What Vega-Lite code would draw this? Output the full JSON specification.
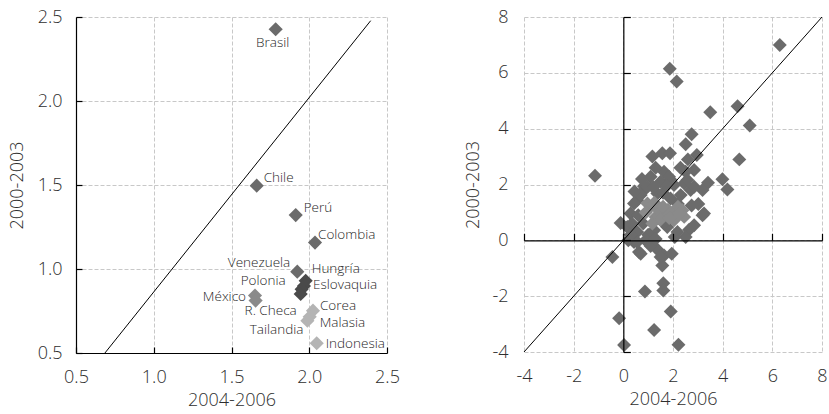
{
  "$schema": "https://vega.github.io/schema/vega-lite/v6.json",
  "padding": {"left": 8, "top": 8, "right": 2, "bottom": 0},
  "background": "white",
  "spacing": 64,
  "config": {
    "view": {"stroke": null},
    "font": "Open Sans",
    "text": {"fontWeight": 300},
    "axis": {
      "labelFont": "Open Sans", "labelFontSize": 18, "labelColor": "#2e2e2e", "labelFontWeight": 300, "labelFlush": false,
      "titleFont": "Open Sans", "titleFontSize": 18, "titleFontWeight": 300, "titleColor": "#2e2e2e",
      "gridColor": "#c8c8c8", "gridDash": [4, 2], "gridWidth": 1,
      "domainColor": "#000000", "tickColor": "#000000", "domainWidth": 1.2, "tickWidth": 1.2
    }
  },
  "datasets": {
    "left": [
      {"name": "Brasil", "x": 1.784, "y": 2.427, "group": "América Latina"},
      {"name": "Chile", "x": 1.662, "y": 1.496, "group": "América Latina"},
      {"name": "Perú", "x": 1.913, "y": 1.321, "group": "América Latina"},
      {"name": "Colombia", "x": 2.037, "y": 1.157, "group": "América Latina"},
      {"name": "Venezuela", "x": 1.923, "y": 0.984, "group": "América Latina"},
      {"name": "México", "x": 1.651, "y": 0.842, "group": "México"},
      {"name": "", "x": 1.655, "y": 0.812, "group": "México"},
      {"name": "Hungría", "x": 1.977, "y": 0.930, "group": "Europa"},
      {"name": "Eslovaquia", "x": 1.966, "y": 0.899, "group": "Europa"},
      {"name": "Polonia", "x": 1.951, "y": 0.879, "group": "Europa"},
      {"name": "R. Checa", "x": 1.945, "y": 0.851, "group": "Europa"},
      {"name": "Corea", "x": 2.024, "y": 0.752, "group": "Asia"},
      {"name": "Malasia", "x": 2.003, "y": 0.716, "group": "Asia"},
      {"name": "Tailandia", "x": 1.988, "y": 0.692, "group": "Asia"},
      {"name": "Indonesia", "x": 2.048, "y": 0.558, "group": "Asia"}
    ],
    "lineL": [{"x": 0.686, "y": 0.5}, {"x": 2.395, "y": 2.478}],
    "lineR": [{"x": -4, "y": -4}, {"x": 8, "y": 8}],
    "right": [
      {"x": 6.3, "y": 7.0, "g": "a"}, {"x": 1.87, "y": 6.15, "g": "a"}, {"x": 2.15, "y": 5.69, "g": "a"},
      {"x": 3.5, "y": 4.59, "g": "a"}, {"x": 4.6, "y": 4.8, "g": "a"}, {"x": 5.09, "y": 4.11, "g": "a"},
      {"x": 4.67, "y": 2.9, "g": "a"}, {"x": 2.75, "y": 3.8, "g": "a"}, {"x": 2.51, "y": 3.44, "g": "a"},
      {"x": 1.57, "y": 3.12, "g": "a"}, {"x": 1.88, "y": 3.12, "g": "a"}, {"x": 1.17, "y": 3.0, "g": "a"},
      {"x": 2.96, "y": 3.06, "g": "a"}, {"x": -1.14, "y": 2.31, "g": "a"}, {"x": 3.99, "y": 2.19, "g": "a"},
      {"x": 4.19, "y": 1.82, "g": "a"}, {"x": 3.41, "y": 2.06, "g": "a"}, {"x": 3.19, "y": 1.8, "g": "a"},
      {"x": 2.85, "y": 2.52, "g": "a"}, {"x": 2.51, "y": 2.46, "g": "a"}, {"x": 1.64, "y": 2.46, "g": "a"},
      {"x": 1.1, "y": 2.28, "g": "a"}, {"x": 0.83, "y": 1.8, "g": "a"}, {"x": 1.5, "y": 2.1, "g": "a"},
      {"x": 1.91, "y": 2.16, "g": "a"}, {"x": 2.45, "y": 2.04, "g": "a"}, {"x": 2.71, "y": 1.8, "g": "a"},
      {"x": 0.56, "y": 1.44, "g": "a"}, {"x": 3.02, "y": 1.3, "g": "a"}, {"x": 3.19, "y": 0.9, "g": "a"},
      {"x": 2.65, "y": 0.38, "g": "a"}, {"x": 2.51, "y": 0.12, "g": "a"}, {"x": 2.07, "y": 0.12, "g": "a"},
      {"x": 1.77, "y": 0.48, "g": "a"}, {"x": -0.11, "y": 0.62, "g": "a"}, {"x": -0.44, "y": -0.6, "g": "a"},
      {"x": 0.63, "y": -0.42, "g": "a"}, {"x": 1.37, "y": -0.33, "g": "a"}, {"x": 1.64, "y": -0.54, "g": "a"},
      {"x": 1.95, "y": -0.48, "g": "a"}, {"x": 1.57, "y": -0.9, "g": "a"}, {"x": 1.61, "y": -1.54, "g": "a"},
      {"x": 1.61, "y": -1.8, "g": "a"}, {"x": 0.87, "y": -1.83, "g": "a"}, {"x": 1.91, "y": -2.55, "g": "a"},
      {"x": -0.17, "y": -2.79, "g": "a"}, {"x": 1.24, "y": -3.21, "g": "a"}, {"x": 0.03, "y": -3.75, "g": "a"},
      {"x": 2.22, "y": -3.74, "g": "a"}, {"x": 0.97, "y": -0.06, "g": "a"}, {"x": 1.84, "y": 2.28, "g": "a"},
      {"x": 2.58, "y": 2.16, "g": "a"}, {"x": 0.83, "y": 1.94, "g": "a"}, {"x": 2.04, "y": 1.98, "g": "a"},
      {"x": 0.97, "y": 1.92, "g": "a"}, {"x": 0.7, "y": 1.62, "g": "a"}, {"x": 0.43, "y": 1.32, "g": "a"},
      {"x": 0.29, "y": 0.96, "g": "a"}, {"x": 0.16, "y": 0.48, "g": "a"}, {"x": 0.56, "y": 0.3, "g": "a"},
      {"x": 0.43, "y": -0.06, "g": "a"}, {"x": 1.24, "y": 0.36, "g": "a"}, {"x": 1.64, "y": 0.6, "g": "a"},
      {"x": 2.18, "y": 0.3, "g": "a"}, {"x": 2.85, "y": 0.54, "g": "a"}, {"x": 3.25, "y": 0.96, "g": "a"},
      {"x": 1.37, "y": 1.68, "g": "a"}, {"x": 2.31, "y": 1.62, "g": "a"}, {"x": 2.85, "y": 1.92, "g": "a"},
      {"x": 0.56, "y": -0.06, "g": "a"}, {"x": 0.7, "y": -0.48, "g": "a"}, {"x": 1.5, "y": -0.6, "g": "a"},
      {"x": 0.3, "y": 0.2, "g": "a"}, {"x": 0.8, "y": 0.6, "g": "a"}, {"x": 0.6, "y": 0.9, "g": "a"},
      {"x": 1.0, "y": 0.2, "g": "a"}, {"x": 1.9, "y": 1.5, "g": "a"}, {"x": 2.2, "y": 1.3, "g": "a"},
      {"x": 1.2, "y": 1.9, "g": "a"}, {"x": 1.6, "y": 1.7, "g": "a"}, {"x": 2.6, "y": 2.9, "g": "a"},
      {"x": 1.3, "y": 2.6, "g": "a"}, {"x": 0.9, "y": 0.0, "g": "a"}, {"x": 0.2, "y": 0.0, "g": "a"},
      {"x": 1.1, "y": -0.2, "g": "a"}, {"x": 0.45, "y": 1.75, "g": "a"}, {"x": 1.75, "y": 1.95, "g": "a"},
      {"x": 2.3, "y": 2.6, "g": "a"}, {"x": 0.75, "y": 2.2, "g": "a"}, {"x": 1.3, "y": 0.05, "g": "a"},
      {"x": 0.35, "y": 0.6, "g": "a"}, {"x": 2.75, "y": 1.25, "g": "a"},
      {"x": 0.97, "y": 1.32, "g": "b"}, {"x": 1.1, "y": 1.2, "g": "b"}, {"x": 0.9, "y": 1.0, "g": "b"},
      {"x": 1.3, "y": 0.84, "g": "b"}, {"x": 1.17, "y": 0.6, "g": "b"}, {"x": 1.64, "y": 0.96, "g": "b"},
      {"x": 2.04, "y": 1.02, "g": "b"}, {"x": 2.38, "y": 1.08, "g": "b"}, {"x": 2.45, "y": 0.84, "g": "b"},
      {"x": 2.04, "y": 0.72, "g": "b"}, {"x": 1.8, "y": 1.1, "g": "b"}, {"x": 1.4, "y": 1.1, "g": "b"},
      {"x": 1.25, "y": 1.35, "g": "b"}, {"x": 1.6, "y": 1.2, "g": "b"}, {"x": 2.2, "y": 1.2, "g": "b"},
      {"x": 1.5, "y": 0.75, "g": "b"}, {"x": 1.85, "y": 0.8, "g": "b"}, {"x": 2.25, "y": 0.95, "g": "b"}
    ]
  },
  "hconcat": [
    {
      "width": 311,
      "height": 336,
      "layer": [
        {
          "data": {"name": "left"},
          "mark": {"type": "point", "shape": "diamond", "filled": true, "size": 200, "opacity": 1},
          "encoding": {
            "x": {"field": "x", "type": "quantitative", "scale": {"domain": [0.5, 2.5], "nice": false, "zero": false},
              "axis": {"values": [0.5, 1, 1.5, 2, 2.5], "format": ".1f", "title": "2004-2006", "grid": true,
                "domain": true, "ticks": true, "tickSize": -6, "labelPadding": 21, "titlePadding": 5}},
            "y": {"field": "y", "type": "quantitative", "scale": {"domain": [0.5, 2.5], "nice": false, "zero": false},
              "axis": {"values": [0.5, 1, 1.5, 2, 2.5], "format": ".1f", "title": "2000-2003", "grid": true,
                "domain": true, "ticks": true, "tickSize": -6, "labelPadding": 20, "titlePadding": 11}},
            "color": {"field": "group", "type": "nominal", "legend": null,
              "scale": {"domain": ["América Latina", "México", "Europa", "Asia"], "range": ["#6b6b6b", "#8a8a8a", "#4a4a4a", "#b4b4b4"]}}
          }
        },
        {
          "data": {"name": "lineL"},
          "mark": {"type": "line", "color": "#000000", "strokeWidth": 1},
          "encoding": {"x": {"field": "x", "type": "quantitative"}, "y": {"field": "y", "type": "quantitative"}}
        },
        {"data": {"name": "left"}, "transform": [{"filter": "datum.name === 'Brasil'"}],
          "mark": {"type": "text", "align": "center", "baseline": "middle", "dx": -3, "dy": 14, "fontSize": 13.5, "color": "#262626"},
          "encoding": {"x": {"field": "x", "type": "quantitative"}, "y": {"field": "y", "type": "quantitative"}, "text": {"field": "name"}}},
        {"data": {"name": "left"}, "transform": [{"filter": "datum.name === 'Chile'"}],
          "mark": {"type": "text", "align": "left", "baseline": "middle", "dx": 7, "dy": -8, "fontSize": 13.5, "color": "#262626"},
          "encoding": {"x": {"field": "x", "type": "quantitative"}, "y": {"field": "y", "type": "quantitative"}, "text": {"field": "name"}}},
        {"data": {"name": "left"}, "transform": [{"filter": "datum.name === 'Perú'"}],
          "mark": {"type": "text", "align": "left", "baseline": "middle", "dx": 8, "dy": -7, "fontSize": 13.5, "color": "#262626"},
          "encoding": {"x": {"field": "x", "type": "quantitative"}, "y": {"field": "y", "type": "quantitative"}, "text": {"field": "name"}}},
        {"data": {"name": "left"}, "transform": [{"filter": "datum.name === 'Colombia'"}],
          "mark": {"type": "text", "align": "left", "baseline": "middle", "dx": 3, "dy": -8, "fontSize": 13.5, "color": "#262626"},
          "encoding": {"x": {"field": "x", "type": "quantitative"}, "y": {"field": "y", "type": "quantitative"}, "text": {"field": "name"}}},
        {"data": {"name": "left"}, "transform": [{"filter": "datum.name === 'Venezuela'"}],
          "mark": {"type": "text", "align": "right", "baseline": "middle", "dx": -7, "dy": -9, "fontSize": 13.5, "color": "#262626"},
          "encoding": {"x": {"field": "x", "type": "quantitative"}, "y": {"field": "y", "type": "quantitative"}, "text": {"field": "name"}}},
        {"data": {"name": "left"}, "transform": [{"filter": "datum.name === 'Hungría'"}],
          "mark": {"type": "text", "align": "left", "baseline": "middle", "dx": 6, "dy": -12, "fontSize": 13.5, "color": "#262626"},
          "encoding": {"x": {"field": "x", "type": "quantitative"}, "y": {"field": "y", "type": "quantitative"}, "text": {"field": "name"}}},
        {"data": {"name": "left"}, "transform": [{"filter": "datum.name === 'Eslovaquia'"}],
          "mark": {"type": "text", "align": "left", "baseline": "middle", "dx": 9, "dy": -1, "fontSize": 13.5, "color": "#262626"},
          "encoding": {"x": {"field": "x", "type": "quantitative"}, "y": {"field": "y", "type": "quantitative"}, "text": {"field": "name"}}},
        {"data": {"name": "left"}, "transform": [{"filter": "datum.name === 'Polonia'"}],
          "mark": {"type": "text", "align": "right", "baseline": "middle", "dx": -16, "dy": -8, "fontSize": 13.5, "color": "#262626"},
          "encoding": {"x": {"field": "x", "type": "quantitative"}, "y": {"field": "y", "type": "quantitative"}, "text": {"field": "name"}}},
        {"data": {"name": "left"}, "transform": [{"filter": "datum.name === 'México'"}],
          "mark": {"type": "text", "align": "right", "baseline": "middle", "dx": -9, "dy": 1, "fontSize": 13.5, "color": "#262626"},
          "encoding": {"x": {"field": "x", "type": "quantitative"}, "y": {"field": "y", "type": "quantitative"}, "text": {"field": "name"}}},
        {"data": {"name": "left"}, "transform": [{"filter": "datum.name === 'R. Checa'"}],
          "mark": {"type": "text", "align": "right", "baseline": "middle", "dx": -4, "dy": 17, "fontSize": 13.5, "color": "#262626"},
          "encoding": {"x": {"field": "x", "type": "quantitative"}, "y": {"field": "y", "type": "quantitative"}, "text": {"field": "name"}}},
        {"data": {"name": "left"}, "transform": [{"filter": "datum.name === 'Tailandia'"}],
          "mark": {"type": "text", "align": "right", "baseline": "middle", "dx": -4, "dy": 9, "fontSize": 13.5, "color": "#262626"},
          "encoding": {"x": {"field": "x", "type": "quantitative"}, "y": {"field": "y", "type": "quantitative"}, "text": {"field": "name"}}},
        {"data": {"name": "left"}, "transform": [{"filter": "datum.name === 'Corea'"}],
          "mark": {"type": "text", "align": "left", "baseline": "middle", "dx": 7, "dy": -5, "fontSize": 13.5, "color": "#262626"},
          "encoding": {"x": {"field": "x", "type": "quantitative"}, "y": {"field": "y", "type": "quantitative"}, "text": {"field": "name"}}},
        {"data": {"name": "left"}, "transform": [{"filter": "datum.name === 'Malasia'"}],
          "mark": {"type": "text", "align": "left", "baseline": "middle", "dx": 10, "dy": 6, "fontSize": 13.5, "color": "#262626"},
          "encoding": {"x": {"field": "x", "type": "quantitative"}, "y": {"field": "y", "type": "quantitative"}, "text": {"field": "name"}}},
        {"data": {"name": "left"}, "transform": [{"filter": "datum.name === 'Indonesia'"}],
          "mark": {"type": "text", "align": "left", "baseline": "middle", "dx": 9, "dy": 1, "fontSize": 13.5, "color": "#262626"},
          "encoding": {"x": {"field": "x", "type": "quantitative"}, "y": {"field": "y", "type": "quantitative"}, "text": {"field": "name"}}}
      ]
    },
    {
      "width": 298,
      "height": 335,
      "resolve": {"axis": {"x": "independent", "y": "independent"}},
      "layer": [
        {
          "data": {"name": "right"},
          "mark": {"type": "point", "shape": "diamond", "filled": true, "size": 195, "opacity": 1},
          "encoding": {
            "x": {"field": "x", "type": "quantitative", "scale": {"domain": [-4, 8], "nice": false, "zero": false},
              "axis": {"orient": "bottom", "values": [-4, -2, 0, 2, 4, 6, 8], "labelExpr": "(datum.value < 0 ? '-' : '') + abs(datum.value)",
                "title": "2004-2006", "grid": true, "domain": false, "ticks": false, "labelPadding": 15, "titlePadding": 5}},
            "y": {"field": "y", "type": "quantitative", "scale": {"domain": [-4, 8], "nice": false, "zero": false},
              "axis": {"orient": "left", "values": [-4, -2, 0, 2, 4, 6, 8], "labelExpr": "(datum.value < 0 ? '-' : '') + abs(datum.value)",
                "title": "2000-2003", "grid": true, "domain": false, "ticks": false, "labelPadding": 16, "titlePadding": 9}},
            "color": {"field": "g", "type": "nominal", "legend": null,
              "scale": {"domain": ["a", "b"], "range": ["#8c8c8c", "#cdcdcd"]}}
          }
        },
        {
          "data": {"name": "lineR"},
          "mark": {"type": "line", "color": "#000000", "strokeWidth": 1},
          "encoding": {
            "x": {"field": "x", "type": "quantitative",
              "axis": {"orient": "bottom", "offset": -111.67, "values": [-4, -2, 0, 2, 4, 6, 8], "labels": false, "title": null,
                "grid": false, "domain": true, "ticks": true, "tickSize": -7, "zindex": 1}},
            "y": {"field": "y", "type": "quantitative",
              "axis": {"orient": "left", "offset": -99.33, "values": [-4, -2, 0, 2, 4, 6, 8], "labels": false, "title": null,
                "grid": false, "domain": true, "ticks": true, "tickSize": -7, "zindex": 1}}
          }
        }
      ]
    }
  ]
}
